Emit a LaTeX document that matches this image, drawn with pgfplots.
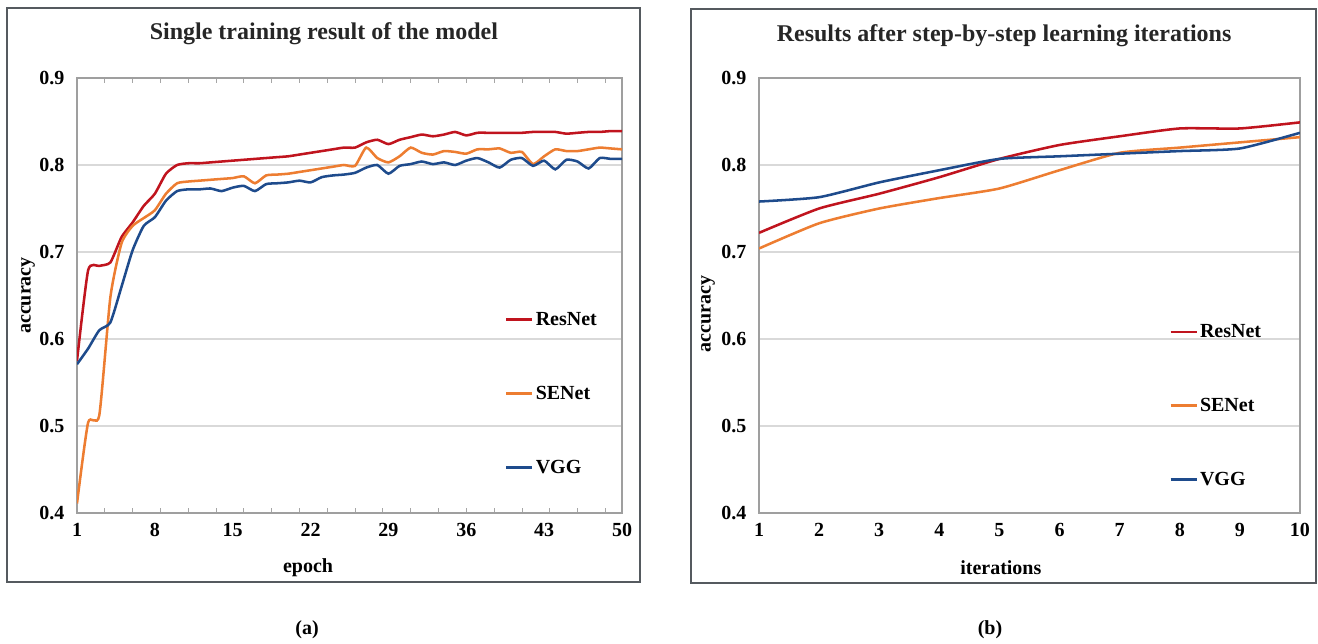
\documentclass[border=0pt]{standalone}
\usepackage{pgfplots}
\pgfplotsset{compat=1.18}
\usepackage{fontspec}
\setmainfont{Liberation Serif}
\definecolor{cRes}{RGB}{192,20,30}
\definecolor{cSE}{RGB}{237,125,49}
\definecolor{cVGG}{RGB}{30,75,140}
\definecolor{frame}{RGB}{85,90,95}

\pgfplotstableread{
e res se vgg
1 0.575 0.411 0.571
2 0.679 0.504 0.589
3 0.684 0.512 0.610
4 0.688 0.648 0.619
5 0.717 0.710 0.660
6 0.734 0.730 0.702
7 0.753 0.739 0.730
8 0.767 0.748 0.740
9 0.790 0.767 0.759
10 0.800 0.779 0.770
11 0.802 0.781 0.772
12 0.802 0.782 0.772
13 0.803 0.783 0.773
14 0.804 0.784 0.770
15 0.805 0.785 0.774
16 0.806 0.787 0.776
17 0.807 0.779 0.770
18 0.808 0.788 0.778
19 0.809 0.789 0.779
20 0.810 0.790 0.780
21 0.812 0.792 0.782
22 0.814 0.794 0.780
23 0.816 0.796 0.786
24 0.818 0.798 0.788
25 0.820 0.800 0.789
26 0.820 0.799 0.791
27 0.826 0.820 0.797
28 0.829 0.808 0.800
29 0.824 0.803 0.790
30 0.829 0.810 0.799
31 0.832 0.820 0.801
32 0.835 0.814 0.804
33 0.833 0.812 0.801
34 0.835 0.816 0.803
35 0.838 0.815 0.800
36 0.834 0.813 0.805
37 0.837 0.818 0.808
38 0.837 0.818 0.803
39 0.837 0.819 0.797
40 0.837 0.814 0.806
41 0.837 0.815 0.808
42 0.838 0.801 0.799
43 0.838 0.810 0.805
44 0.838 0.818 0.795
45 0.836 0.816 0.806
46 0.837 0.816 0.804
47 0.838 0.818 0.796
48 0.838 0.820 0.808
49 0.839 0.819 0.807
50 0.839 0.818 0.807
}\tabA

\pgfplotstableread{
i res se vgg
1 0.722 0.704 0.758
2 0.750 0.733 0.763
3 0.767 0.750 0.780
4 0.786 0.762 0.794
5 0.807 0.773 0.807
6 0.823 0.794 0.810
7 0.833 0.814 0.813
8 0.842 0.820 0.816
9 0.842 0.826 0.819
10 0.849 0.832 0.837
}\tabB

\pgfplotsset{
  acc/.style={
    scale only axis,
    height=326.25pt,
    ymin=0.4, ymax=0.9,
    ytick={0.4,0.5,0.6,0.7,0.8,0.9},
    yticklabel style={/pgf/number format/fixed,/pgf/number format/fixed zerofill,/pgf/number format/precision=1, xshift=-6pt},
    xticklabel style={yshift=-4pt},
    /pgf/number format/assume math mode=true,
    tick label style={font=\fontsize{15}{17}\selectfont\bfseries},
    label style={font=\fontsize{15}{17}\selectfont\bfseries},
    title style={font=\fontsize{18}{21}\selectfont\bfseries, text=black!85},
    ymajorgrids,
    grid style={gray!30, line width=0.9pt},
    axis line style={gray!75, line width=1pt},
    major tick length=0pt,
    minor tick length=4pt,
    tick align=inside,
    minor tick style={gray!70, line width=0.6pt},
    legend cell align=left,
    legend image code/.code={\draw[#1, line width=2pt] (0pt,0pt) -- (19.5pt,0pt);},
    legend style={draw=none, fill=none, inner sep=0pt, row sep=41pt,
      font=\fontsize{15}{17}\selectfont\bfseries, anchor=north west,
      nodes={inner sep=1.5pt}},
    every axis plot/.append style={line width=1.9pt, smooth, tension=0.35},
  }
}

\begin{document}
\begin{tikzpicture}
\path (0,0) rectangle (988.5pt,481.5pt);
\draw[frame, line width=1.1pt] (5.25pt,45pt) rectangle (480pt,475.5pt);
\draw[frame, line width=1.1pt] (518.25pt,44.25pt) rectangle (987pt,474.75pt);

\begin{axis}[acc,
  at={(57.75pt,96.75pt)}, anchor=south west,
  width=408.75pt,
  xmin=1, xmax=50,
  xtick={1,8,15,22,29,36,43,50},
  minor xtick={3.5,6,8.5,11,13.5,16,18.5,21,23.5,26,28.5,31,33.5,36,38.5,41,43.5,46,48.5},
  title={Single training result of the model},
  title style={at={(axis description cs:0.453,1.083)}, anchor=center},
  xlabel={epoch},
  xlabel style={at={(axis description cs:0.424,-0.126)}, anchor=center},
  ylabel={accuracy},
  ylabel style={at={(axis description cs:-0.09,0.5)}, anchor=center},
  legend style={at={(0.785,0.467)}},
]
\addplot[cRes] table[x=e,y=res]{\tabA};
\addlegendentry{ResNet}
\addplot[cSE] table[x=e,y=se]{\tabA};
\addlegendentry{SENet}
\addplot[cVGG] table[x=e,y=vgg]{\tabA};
\addlegendentry{VGG}
\end{axis}

\begin{axis}[acc,
  at={(569.25pt,96.75pt)}, anchor=south west,
  width=405.75pt,
  xmin=1, xmax=10,
  xtick={1,2,...,10},
  title={Results after step-by-step learning iterations},
  title style={at={(axis description cs:0.453,1.078)}, anchor=center},
  xlabel={iterations},
  xlabel style={at={(axis description cs:0.447,-0.126)}, anchor=center},
  ylabel={accuracy},
  ylabel style={at={(axis description cs:-0.094,0.457)}, anchor=center},
  legend style={at={(0.758,0.439)}},
]
\addplot[cRes] table[x=i,y=res]{\tabB};
\addlegendentry{ResNet}
\addplot[cSE] table[x=i,y=se]{\tabB};
\addlegendentry{SENet}
\addplot[cVGG] table[x=i,y=vgg]{\tabB};
\addlegendentry{VGG}
\end{axis}

\node[font=\fontsize{15}{17}\selectfont\bfseries] at (230.25pt,9pt) {(a)};
\node[font=\fontsize{15}{17}\selectfont\bfseries] at (742.5pt,9pt) {(b)};
\end{tikzpicture}
\end{document}
